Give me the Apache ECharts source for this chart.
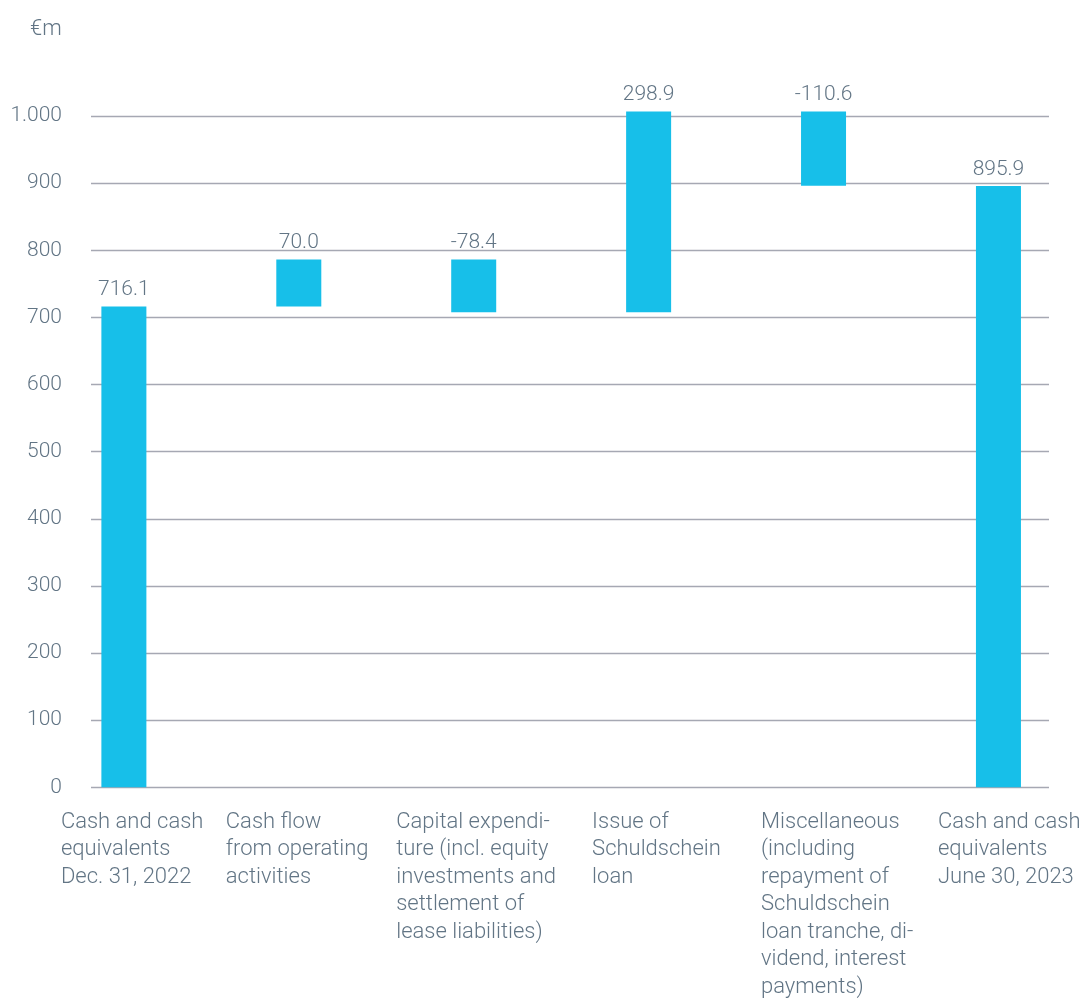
<!DOCTYPE html>
<html>
<head>
<meta charset="utf-8">
<script src="https://cdn.jsdelivr.net/npm/echarts@6/dist/echarts.min.js"></script>
<style>
html,body{margin:0;padding:0;background:#fff;}
#chart{width:1086px;height:998px;}
</style>
</head>
<body>
<div id="chart"></div>
<script>
// ---- data ----
const categories = [
  "Cash and cash\nequivalents\nDec. 31, 2022",
  "Cash flow\nfrom operating\nactivities",
  "Capital expendi-\nture (incl. equity\ninvestments and\nsettlement of\nlease liabilities)",
  "Issue of\nSchuldschein\nloan",
  "Miscellaneous\n(including\nrepayment of\nSchuldschein\nloan tranche, di-\nvidend, interest\npayments)",
  "Cash and cash\nequivalents\nJune 30, 2023"
];
const startValue = 716.1;
const changes = [70.0, -78.4, 298.9, -110.6];
const endValue = 895.9;
const valueLabels = ["716.1", "70.0", "-78.4", "298.9", "-110.6", "895.9"];
const yTicks = [0, 100, 200, 300, 400, 500, 600, 700, 800, 900, 1000];

// ---- build waterfall: [index, low, high] ----
const wfData = [];
wfData.push([0, 0, startValue]);
let running = startValue;
changes.forEach((d, i) => {
  const next = running + d;
  wfData.push([i + 1, Math.min(running, next), Math.max(running, next)]);
  running = next;
});
wfData.push([categories.length - 1, 0, endValue]);

const textColor = '#627585';
const fontFamily = 'Roboto, "DejaVu Sans", sans-serif';
const labelWidths = [126, 146, 155, 113, 125, 121];
const rich = {};
labelWidths.forEach((w, i) => {
  rich['c' + i] = { width: w, align: 'left', color: textColor, fontSize: 22, fontWeight: 300, lineHeight: 27.5, fontFamily: fontFamily };
});

const chart = echarts.init(document.getElementById('chart'));
chart.setOption({
  animation: false,
  backgroundColor: '#ffffff',
  title: {
    text: '€m',
    left: 25,
    top: 13,
    textStyle: { color: textColor, fontSize: 22, fontWeight: 300, fontFamily: fontFamily }
  },
  grid: { left: 91, right: 37, top: 116, bottom: 205, containLabel: false },
  xAxis: {
    type: 'value',
    min: -0.188,
    max: 5.289,
    splitLine: { show: false },
    axisLine: { show: false },
    axisTick: { show: false },
    axisLabel: {
      customValues: categories.map((_, i) => i),
      margin: 21,
      align: 'center',
      verticalAlign: 'top',
      formatter: (v) => {
        const i = Math.round(v);
        return categories[i].split('\n').map(l => '{c' + i + '|' + l + '}').join('\n');
      },
      rich: rich
    }
  },
  yAxis: {
    type: 'value',
    min: 0,
    max: 1000,
    interval: 100,
    axisLine: { show: false },
    axisTick: { show: false },
    splitLine: { show: true, lineStyle: { color: '#a6a8b3', width: 1.3 } },
    axisLabel: {
      margin: 29,
      color: textColor,
      fontSize: 21,
      fontWeight: 300,
      fontFamily: fontFamily,
      formatter: (v) => yTicks.includes(v) ? (v >= 1000 ? String(v).replace(/\B(?=(\d{3})+(?!\d))/g, '.') : String(v)) : ''
    }
  },
  series: [
    {
      type: 'custom',
      encode: { x: 0, y: [1, 2] },
      data: wfData,
      renderItem: (params, api) => {
        const x = api.value(0);
        const lo = api.coord([x, api.value(1)]);
        const hi = api.coord([x, api.value(2)]);
        const w = 45;
        return {
          type: 'group',
          children: [
            {
              type: 'rect',
              shape: { x: lo[0] - w / 2, y: hi[1], width: w, height: lo[1] - hi[1] },
              style: { fill: '#17bfe9' }
            },
            {
              type: 'text',
              x: hi[0],
              y: hi[1] - 6,
              style: {
                text: valueLabels[params.dataIndex],
                align: 'center',
                verticalAlign: 'bottom',
                fill: textColor,
                font: '300 21px ' + fontFamily
              }
            }
          ]
        };
      }
    }
  ]
});
</script>
</body>
</html>
